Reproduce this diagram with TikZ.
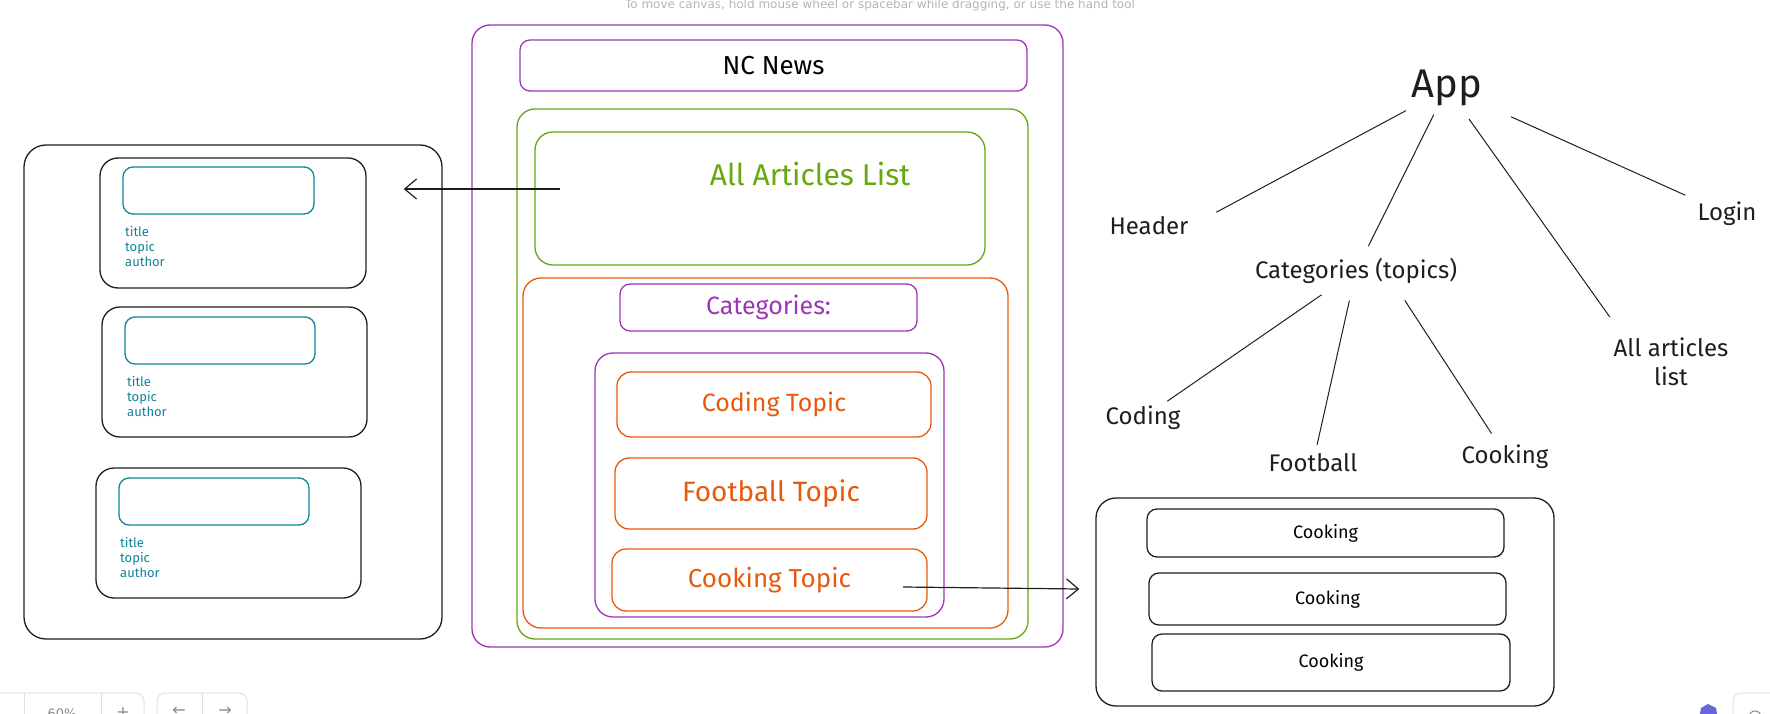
\documentclass[tikz,border=0pt]{standalone}
\usepackage{fontspec}
\setmainfont{Fira Sans}
\newfontfamily\uifont{DejaVu Sans}
\usetikzlibrary{arrows.meta}

\definecolor{violetline}{HTML}{9C36B5}
\definecolor{greenline}{HTML}{66A80F}
\definecolor{orangeline}{HTML}{E8590C}
\definecolor{tealline}{HTML}{0C8599}
\definecolor{inkline}{HTML}{1E1E1E}
\definecolor{hintgray}{HTML}{B5B5B5}
\definecolor{uigray}{HTML}{E0E0E0}
\definecolor{uitext}{HTML}{8A8A8A}
\definecolor{uiviolet}{HTML}{6965DB}

\newcommand{\txtsize}[1]{\fontsize{#1}{1.2\dimexpr#1pt\relax}\selectfont}

\begin{document}
\begin{tikzpicture}[
    x=1pt, y=-1pt,
    frame/.style={draw=#1, line width=1.3pt, rounded corners=18pt, inner sep=0pt},
    pill/.style={draw=#1, line width=1.3pt, rounded corners=10pt, inner sep=0pt},
    word/.style={text=inkline, inner sep=3pt, font=\txtsize{24}},
    fields/.style={text=tealline, inner sep=0pt, align=left, anchor=north west,
        font=\fontsize{13}{15}\selectfont},
    link/.style={draw=inkline, line width=1pt, shorten <=3pt, shorten >=3pt},
    arrow/.style={draw=inkline, line width=1.2pt,
        -{Straight Barb[length=12pt,width=20pt,line width=1.2pt]}},
    uibox/.style={draw=uigray, line width=1pt, rounded corners=8pt}
]
\useasboundingbox (0,0) rectangle (1770,714);
\clip (0,0) rectangle (1770,714);

% canvas hint
\node (hint) [text=hintgray, font=\uifont\txtsize{12}] at (880,5)
    {To move canvas, hold mouse wheel or spacebar while dragging, or use the hand tool};

% article list preview
\node (listframe) [frame=inkline, rounded corners=22pt, minimum width=418pt, minimum height=494pt] at (233,392) {};

\node (card1) [frame=inkline, minimum width=266pt, minimum height=130pt] at (233,223) {};
\node (thumb1) [pill=tealline, minimum width=191pt, minimum height=47pt] at (218.5,190.5) {};
\node (fields1) [fields] at (125,226) {title\\topic\\author};

\node (card2) [frame=inkline, minimum width=265pt, minimum height=130pt] at (234.5,372) {};
\node (thumb2) [pill=tealline, minimum width=190pt, minimum height=47pt] at (220,340.5) {};
\node (fields2) [fields] at (127,376) {title\\topic\\author};

\node (card3) [frame=inkline, minimum width=265pt, minimum height=130pt] at (228.5,533) {};
\node (thumb3) [pill=tealline, minimum width=190pt, minimum height=47pt] at (214,501.5) {};
\node (fields3) [fields] at (120,537) {title\\topic\\author};

% page layout
\node (page) [frame=violetline, minimum width=591pt, minimum height=622pt] at (767.5,336) {};
\node (header) [pill=violetline, minimum width=507pt, minimum height=51pt, font=\txtsize{26}] at (773.5,65.5) {NC News};
\node (main) [frame=greenline, minimum width=511pt, minimum height=530pt] at (772.5,374) {};
\node (articles) [frame=greenline, minimum width=450pt, minimum height=133pt] at (760,198.5) {};
\node (articlestext) [text=greenline, font=\txtsize{30}] at (810,174) {All Articles List};
\node (topics) [frame=orangeline, minimum width=485pt, minimum height=350pt] at (765.5,453) {};
\node (categories) [pill=violetline, text=violetline, minimum width=297pt, minimum height=47pt, font=\txtsize{25}] at (768.5,307.5) {Categories:};
\node (topiclist) [frame=violetline, minimum width=349pt, minimum height=264pt] at (769.5,485) {};
\node (codingtopic) [pill=orangeline, rounded corners=14pt, text=orangeline, minimum width=314pt, minimum height=65pt, font=\txtsize{25}] at (774,404.5) {Coding Topic};
\node (footballtopic) [pill=orangeline, rounded corners=14pt, text=orangeline, minimum width=312pt, minimum height=71pt, font=\txtsize{28}] at (771,493.5) {Football Topic};
\node (cookingtopic) [pill=orangeline, rounded corners=14pt, text=orangeline, minimum width=315pt, minimum height=62pt, font=\txtsize{26}] at (769.5,580) {Cooking Topic};

% topic page preview
\node (cookframe) [frame=inkline, rounded corners=20pt, minimum width=458pt, minimum height=208pt] at (1325,602) {};
\node (cook1) [pill=inkline, minimum width=357pt, minimum height=48pt, font=\txtsize{18}] at (1325.5,533) {Cooking};
\node (cook2) [pill=inkline, minimum width=357pt, minimum height=52pt, font=\txtsize{18}] at (1327.5,599) {Cooking};
\node (cook3) [pill=inkline, minimum width=358pt, minimum height=57pt, font=\txtsize{18}] at (1331,662.5) {Cooking};

\draw [arrow] ([shift={(26pt,9.5pt)}]articles.west) -- ([shift={(-39pt,0pt)}]listframe.east |- 0,189);
\draw [arrow] ([shift={(133.5pt,-7pt)}]cookingtopic.center) -- ([shift={(-16pt,13pt)}]cookframe.west);

% component tree
\node (app) [word, font=\txtsize{40}] at (1447,88) {App};
\node (headerc) [word] at (1149,226) {Header};
\node (cats) [word] at (1356,271) {Categories (topics)};
\node (login) [word] at (1727,214) {Login};
\node (allart) [word, align=center] at (1671,362) {All articles\\list};
\node (coding) [word] at (1143,418) {Coding};
\node (football) [word] at (1313,463) {Football};
\node (cooking) [word] at (1505,457) {Cooking};

\draw [link] (app.south west) -- ([xshift=22pt]headerc.north east);
\draw [link, shorten <=6pt, shorten >=10pt] (app) -- (cats);
\draw [link, shorten <=12pt, shorten >=22pt] (app) -- ([xshift=12pt]allart.north west);
\draw [link, shorten <=28pt, shorten >=10pt] (app) -- (login);
\draw [link, shorten <=14pt] (cats) -- (coding);
\draw [link, shorten <=14pt, shorten >=6pt] (cats) -- (football);
\draw [link, shorten <=16pt, shorten >=10pt] ([xshift=40pt]cats.south) -- ([xshift=-8pt]cooking.north);

% editor controls
\draw [uibox] (-12,693) rectangle (144,740);
\draw [uigray, line width=1pt] (24,693) -- (24,714);
\draw [uigray, line width=1pt] (101,693) -- (101,714);
\node (zoomlevel) [text=uitext, font=\uifont\txtsize{13}, anchor=north, inner sep=0pt] at (62,709) {60\%};
\node (zoomin) [text=uitext, font=\uifont\txtsize{16}, anchor=north, inner sep=0pt] at (123,707) {+};
\draw [uibox] (157,693) rectangle (247,740);
\draw [uigray, line width=1pt] (202,693) -- (202,714);
\node (undo) [text=uitext, font=\uifont\txtsize{16}, anchor=north, inner sep=0pt] at (179,707) {←};
\node (redo) [text=uitext, font=\uifont\txtsize{16}, anchor=north, inner sep=0pt] at (225,707) {→};
\fill [uiviolet] (1700,714) -- (1701,708) -- (1708,704) -- (1716,708) -- (1717,714) -- cycle;
\draw [uibox] (1733,693) rectangle (1800,740);
\draw [uitext, line width=1pt] (1755,717) circle (6);
\end{tikzpicture}
\end{document}
